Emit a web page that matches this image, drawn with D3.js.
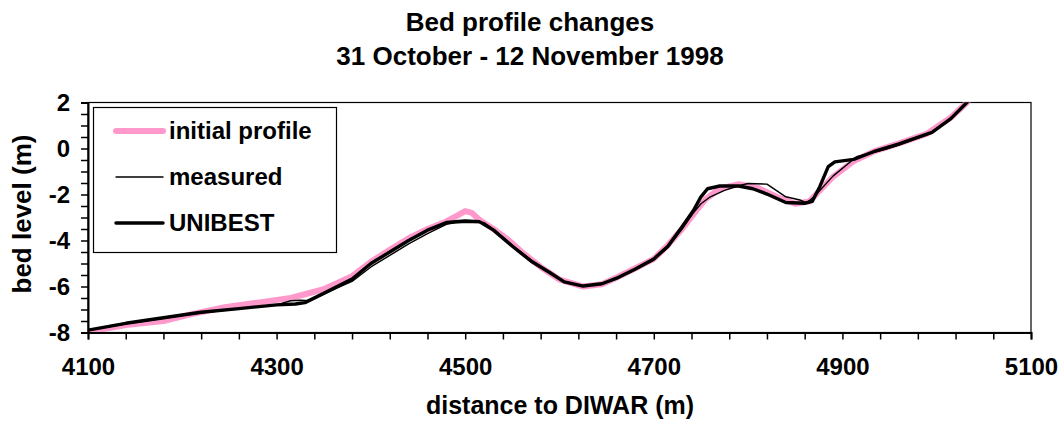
<!DOCTYPE html>
<html>
<head>
<meta charset="utf-8">
<script src="https://cdn.jsdelivr.net/npm/d3@7"></script>
<style>
  body { margin: 0; background: #fff; }
  svg { display: block; font-family: "Liberation Sans", Arial, sans-serif; font-weight: bold; }
</style>
</head>
<body>
<svg id="chart" width="1061" height="423"></svg>
<script>
// ---- data ----
const titleLines = ["Bed profile changes", "31 October - 12 November 1998"];
const xLabel = "distance to DIWAR (m)";
const yLabel = "bed level (m)";
const seriesNames = ["initial profile", "measured", "UNIBEST"];

const xTickValues = d3.range(4100, 5101, 40);
const xTickLabels = [4100, 4300, 4500, 4700, 4900, 5100];
const yTickValues = d3.range(-8, 2.01, 0.5);
const yTickLabels = [-8, -6, -4, -2, 0, 2];

const initialX = [4100,4140,4180,4210,4245,4280,4315,4350,4380,4400,4420,4440,4460,4480,4490,4500,4507,4515,4530,4545,4560,4580,4600,4625,4645,4660,4680,4700,4715,4730,4745,4755,4770,4790,4810,4830,4850,4865,4890,4912,4935,4960,4990,5015,5032,5045];
const initialZ = [-7.97,-7.68,-7.5,-7.2,-6.9,-6.7,-6.5,-6.12,-5.55,-4.93,-4.4,-3.9,-3.5,-3.17,-2.95,-2.72,-2.8,-3.1,-3.5,-3.95,-4.5,-5.15,-5.7,-6.0,-5.9,-5.62,-5.22,-4.8,-4.2,-3.5,-2.7,-2.2,-1.75,-1.55,-1.7,-2.1,-2.4,-2.3,-1.23,-0.55,-0.1,0.22,0.65,1.35,2.0,2.6];

const measuredX = [4100,4140,4180,4220,4260,4300,4315,4325,4335,4350,4380,4400,4420,4440,4460,4480,4490,4520,4530,4550,4570,4590,4605,4625,4645,4660,4680,4700,4715,4730,4742,4750,4760,4775,4790,4800,4820,4840,4855,4862,4870,4890,4915,4930,4945,4960,4995,5015,5032,5045];
const measuredZ = [-7.9,-7.62,-7.38,-7.14,-6.97,-6.8,-6.62,-6.6,-6.62,-6.32,-5.78,-5.15,-4.65,-4.15,-3.7,-3.3,-3.22,-3.22,-3.5,-4.2,-4.85,-5.38,-5.78,-5.97,-5.9,-5.68,-5.28,-4.85,-4.3,-3.5,-2.8,-2.4,-2.1,-1.82,-1.62,-1.52,-1.55,-2.1,-2.24,-2.36,-2.1,-1.2,-0.36,-0.2,-0.05,0.15,0.68,1.28,1.98,2.6];

const unibestX = [4100,4140,4180,4220,4260,4300,4320,4330,4350,4380,4400,4420,4440,4460,4480,4500,4515,4530,4550,4570,4590,4605,4625,4645,4660,4680,4700,4715,4730,4742,4750,4757,4770,4790,4805,4820,4840,4860,4868,4876,4885,4892,4912,4933,4960,4995,5015,5032,5045];
const unibestZ = [-7.9,-7.6,-7.36,-7.12,-6.96,-6.8,-6.76,-6.7,-6.3,-5.68,-5.0,-4.5,-4.0,-3.55,-3.22,-3.15,-3.18,-3.55,-4.25,-4.9,-5.4,-5.8,-5.98,-5.88,-5.65,-5.25,-4.8,-4.25,-3.4,-2.7,-2.1,-1.75,-1.63,-1.63,-1.75,-1.98,-2.35,-2.38,-2.3,-1.66,-0.79,-0.58,-0.47,-0.14,0.2,0.7,1.3,2.0,2.6];

// ---- layout ----
const svg = d3.select("#chart");
const plot = { left: 88, right: 1031, top: 102.5, bottom: 332.5 };
const x = d3.scaleLinear().domain([4100, 5100]).range([plot.left, plot.right]);
const y = d3.scaleLinear().domain([-8, 2]).range([plot.bottom, plot.top]);

svg.append("defs").append("clipPath").attr("id", "clip")
  .append("rect").attr("x", plot.left).attr("y", plot.top)
  .attr("width", plot.right - plot.left).attr("height", plot.bottom - plot.top);

// plot border (top & right)
svg.append("rect").attr("x", plot.left).attr("y", plot.top)
  .attr("width", plot.right - plot.left).attr("height", plot.bottom - plot.top)
  .attr("fill", "none").attr("stroke", "#000").attr("stroke-width", 1.2);

// title
svg.append("g").selectAll("text").data(titleLines).join("text")
  .attr("x", 530).attr("y", (d, i) => 31 + i * 34)
  .attr("text-anchor", "middle").attr("font-size", 26).text(d => d);

// lines
const series = [
  { name: seriesNames[0], xs: initialX, zs: initialZ, color: "#ff99cc", width: 6 },
  { name: seriesNames[1], xs: measuredX, zs: measuredZ, color: "#000", width: 1.4 },
  { name: seriesNames[2], xs: unibestX, zs: unibestZ, color: "#000", width: 3.4 }
];
const line = d3.line().x(d => x(d[0])).y(d => y(d[1]));
const gLines = svg.append("g").attr("clip-path", "url(#clip)");
series.forEach(s => {
  gLines.append("path").datum(s.xs.map((v, i) => [v, s.zs[i]]))
    .attr("d", line).attr("fill", "none").attr("stroke", s.color)
    .attr("stroke-width", s.width).attr("stroke-linejoin", "round").attr("stroke-linecap", "round");
});

// axes
const xAxis = d3.axisBottom(x).tickValues(xTickValues).tickSizeOuter(0).tickSize(7).tickPadding(18)
  .tickFormat(d => xTickLabels.includes(d) ? String(d) : "");
const gx = svg.append("g").attr("transform", `translate(0,${plot.bottom})`).call(xAxis);
gx.select(".domain").attr("stroke-width", 2);
gx.selectAll(".tick line").attr("stroke-width", 1.5);
gx.selectAll("text").attr("font-size", 24).attr("font-family", "Liberation Sans, Arial, sans-serif").attr("font-weight", "bold").attr("fill", "#000");

const yAxis = d3.axisLeft(y).tickValues(yTickValues).tickSizeOuter(0).tickSize(7).tickPadding(11)
  .tickFormat(d => yTickLabels.includes(d) ? String(d) : "");
const gy = svg.append("g").attr("transform", `translate(${plot.left},0)`).call(yAxis);
gy.select(".domain").attr("stroke-width", 2);
gy.selectAll(".tick line").attr("stroke-width", 1.5);
gy.selectAll("text").attr("font-size", 24).attr("font-family", "Liberation Sans, Arial, sans-serif").attr("font-weight", "bold").attr("fill", "#000");

// axis titles
svg.append("text").attr("x", 560).attr("y", 414).attr("text-anchor", "middle")
  .attr("font-size", 25).text(xLabel);
svg.append("text").attr("transform", "translate(31,214) rotate(-90)").attr("text-anchor", "middle")
  .attr("font-size", 26).text(yLabel);

// legend
const lg = svg.append("g");
lg.append("rect").attr("x", 93.5).attr("y", 107.5).attr("width", 243).attr("height", 145)
  .attr("fill", "#fff").attr("stroke", "#000").attr("stroke-width", 1.2);
series.forEach((s, i) => {
  const yy = 131 + i * 46;
  lg.append("line").attr("x1", 116).attr("x2", 163).attr("y1", yy).attr("y2", yy)
    .attr("stroke", s.color).attr("stroke-width", s.width).attr("stroke-linecap", "round");
  lg.append("text").attr("x", 169).attr("y", yy + 8).attr("font-size", 24).text(s.name);
});
</script>
</body>
</html>
